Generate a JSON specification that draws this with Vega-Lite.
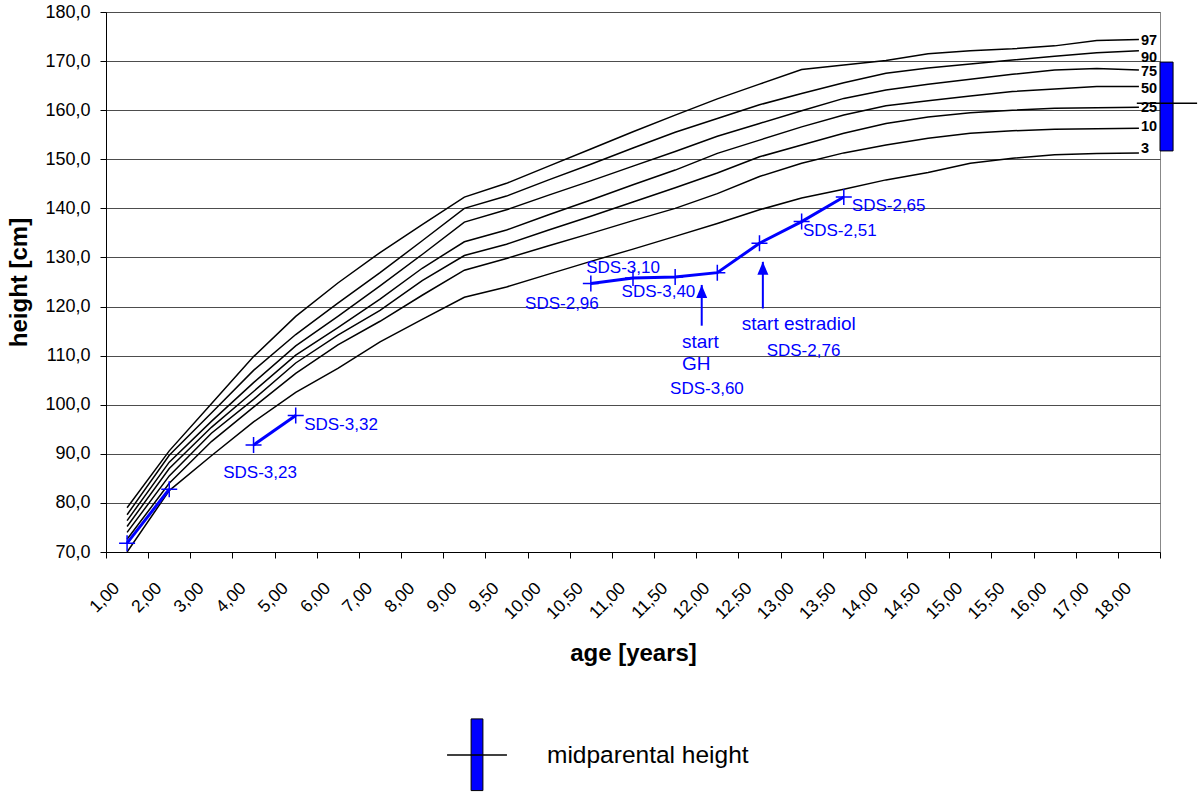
{
  "$schema": "https://vega.github.io/schema/vega-lite/v6.json",
  "width": 1054,
  "height": 540,
  "autosize": {"type": "none"},
  "padding": {"left": 106, "top": 12, "right": 40, "bottom": 240},
  "background": "white",
  "config": {"font": "Liberation Sans", "view": {"stroke": "#888888", "strokeWidth": 1}},
  "datasets": {
    "curves": [
      {"age":"1,00","percentile":"97","height":79.0},{"age":"2,00","percentile":"97","height":90.6},{"age":"3,00","percentile":"97","height":100.2},{"age":"4,00","percentile":"97","height":109.8},{"age":"5,00","percentile":"97","height":118.0},{"age":"6,00","percentile":"97","height":124.8},{"age":"7,00","percentile":"97","height":131.0},{"age":"8,00","percentile":"97","height":136.7},{"age":"9,00","percentile":"97","height":142.3},{"age":"9,50","percentile":"97","height":145.1},{"age":"10,00","percentile":"97","height":148.6},{"age":"10,50","percentile":"97","height":152.1},{"age":"11,00","percentile":"97","height":155.6},{"age":"11,50","percentile":"97","height":159.0},{"age":"12,00","percentile":"97","height":162.3},{"age":"12,50","percentile":"97","height":165.3},{"age":"13,00","percentile":"97","height":168.3},{"age":"13,50","percentile":"97","height":169.2},{"age":"14,00","percentile":"97","height":170.1},{"age":"14,50","percentile":"97","height":171.5},{"age":"15,00","percentile":"97","height":172.1},{"age":"15,50","percentile":"97","height":172.5},{"age":"16,00","percentile":"97","height":173.1},{"age":"17,00","percentile":"97","height":174.2},{"age":"18,00","percentile":"97","height":174.4},
      {"age":"1,00","percentile":"90","height":77.6},{"age":"2,00","percentile":"90","height":89.7},{"age":"3,00","percentile":"90","height":98.3},{"age":"4,00","percentile":"90","height":107.0},{"age":"5,00","percentile":"90","height":114.3},{"age":"6,00","percentile":"90","height":120.7},{"age":"7,00","percentile":"90","height":126.9},{"age":"8,00","percentile":"90","height":133.4},{"age":"9,00","percentile":"90","height":140.0},{"age":"9,50","percentile":"90","height":142.5},{"age":"10,00","percentile":"90","height":145.8},{"age":"10,50","percentile":"90","height":149.0},{"age":"11,00","percentile":"90","height":152.3},{"age":"11,50","percentile":"90","height":155.5},{"age":"12,00","percentile":"90","height":158.3},{"age":"12,50","percentile":"90","height":161.1},{"age":"13,00","percentile":"90","height":163.4},{"age":"13,50","percentile":"90","height":165.6},{"age":"14,00","percentile":"90","height":167.5},{"age":"14,50","percentile":"90","height":168.6},{"age":"15,00","percentile":"90","height":169.4},{"age":"15,50","percentile":"90","height":170.2},{"age":"16,00","percentile":"90","height":171.0},{"age":"17,00","percentile":"90","height":171.7},{"age":"18,00","percentile":"90","height":172.1},
      {"age":"1,00","percentile":"75","height":76.4},{"age":"2,00","percentile":"75","height":88.3},{"age":"3,00","percentile":"75","height":96.6},{"age":"4,00","percentile":"75","height":104.5},{"age":"5,00","percentile":"75","height":112.0},{"age":"6,00","percentile":"75","height":118.0},{"age":"7,00","percentile":"75","height":124.2},{"age":"8,00","percentile":"75","height":130.6},{"age":"9,00","percentile":"75","height":137.2},{"age":"9,50","percentile":"75","height":139.7},{"age":"10,00","percentile":"75","height":142.7},{"age":"10,50","percentile":"75","height":145.6},{"age":"11,00","percentile":"75","height":148.6},{"age":"11,50","percentile":"75","height":151.6},{"age":"12,00","percentile":"75","height":154.7},{"age":"12,50","percentile":"75","height":157.3},{"age":"13,00","percentile":"75","height":159.9},{"age":"13,50","percentile":"75","height":162.4},{"age":"14,00","percentile":"75","height":164.1},{"age":"14,50","percentile":"75","height":165.3},{"age":"15,00","percentile":"75","height":166.3},{"age":"15,50","percentile":"75","height":167.3},{"age":"16,00","percentile":"75","height":168.2},{"age":"17,00","percentile":"75","height":168.5},{"age":"18,00","percentile":"75","height":168.2},
      {"age":"1,00","percentile":"50","height":75.2},{"age":"2,00","percentile":"50","height":87.0},{"age":"3,00","percentile":"50","height":95.4},{"age":"4,00","percentile":"50","height":102.7},{"age":"5,00","percentile":"50","height":110.1},{"age":"6,00","percentile":"50","height":115.7},{"age":"7,00","percentile":"50","height":121.5},{"age":"8,00","percentile":"50","height":127.8},{"age":"9,00","percentile":"50","height":133.2},{"age":"9,50","percentile":"50","height":135.6},{"age":"10,00","percentile":"50","height":138.7},{"age":"10,50","percentile":"50","height":141.7},{"age":"11,00","percentile":"50","height":144.8},{"age":"11,50","percentile":"50","height":147.8},{"age":"12,00","percentile":"50","height":151.2},{"age":"12,50","percentile":"50","height":153.9},{"age":"13,00","percentile":"50","height":156.6},{"age":"13,50","percentile":"50","height":159.0},{"age":"14,00","percentile":"50","height":160.9},{"age":"14,50","percentile":"50","height":161.9},{"age":"15,00","percentile":"50","height":162.9},{"age":"15,50","percentile":"50","height":163.8},{"age":"16,00","percentile":"50","height":164.3},{"age":"17,00","percentile":"50","height":164.8},{"age":"18,00","percentile":"50","height":164.8},
      {"age":"1,00","percentile":"25","height":74.0},{"age":"2,00","percentile":"25","height":85.5},{"age":"3,00","percentile":"25","height":94.2},{"age":"4,00","percentile":"25","height":101.1},{"age":"5,00","percentile":"25","height":108.5},{"age":"6,00","percentile":"25","height":114.2},{"age":"7,00","percentile":"25","height":119.2},{"age":"8,00","percentile":"25","height":125.3},{"age":"9,00","percentile":"25","height":130.4},{"age":"9,50","percentile":"25","height":132.7},{"age":"10,00","percentile":"25","height":135.6},{"age":"10,50","percentile":"25","height":138.4},{"age":"11,00","percentile":"25","height":141.3},{"age":"11,50","percentile":"25","height":144.2},{"age":"12,00","percentile":"25","height":147.2},{"age":"12,50","percentile":"25","height":150.5},{"age":"13,00","percentile":"25","height":152.9},{"age":"13,50","percentile":"25","height":155.3},{"age":"14,00","percentile":"25","height":157.3},{"age":"14,50","percentile":"25","height":158.6},{"age":"15,00","percentile":"25","height":159.5},{"age":"15,50","percentile":"25","height":160.0},{"age":"16,00","percentile":"25","height":160.4},{"age":"17,00","percentile":"25","height":160.5},{"age":"18,00","percentile":"25","height":160.6},
      {"age":"1,00","percentile":"10","height":72.6},{"age":"2,00","percentile":"10","height":84.0},{"age":"3,00","percentile":"10","height":92.5},{"age":"4,00","percentile":"10","height":99.5},{"age":"5,00","percentile":"10","height":106.4},{"age":"6,00","percentile":"10","height":112.2},{"age":"7,00","percentile":"10","height":117.0},{"age":"8,00","percentile":"10","height":122.3},{"age":"9,00","percentile":"10","height":127.4},{"age":"9,50","percentile":"10","height":129.8},{"age":"10,00","percentile":"10","height":132.4},{"age":"10,50","percentile":"10","height":134.9},{"age":"11,00","percentile":"10","height":137.5},{"age":"11,50","percentile":"10","height":140.0},{"age":"12,00","percentile":"10","height":143.0},{"age":"12,50","percentile":"10","height":146.5},{"age":"13,00","percentile":"10","height":149.2},{"age":"13,50","percentile":"10","height":151.3},{"age":"14,00","percentile":"10","height":152.9},{"age":"14,50","percentile":"10","height":154.3},{"age":"15,00","percentile":"10","height":155.3},{"age":"15,50","percentile":"10","height":155.8},{"age":"16,00","percentile":"10","height":156.1},{"age":"17,00","percentile":"10","height":156.2},{"age":"18,00","percentile":"10","height":156.3},
      {"age":"1,00","percentile":"3","height":70.0},{"age":"2,00","percentile":"3","height":82.5},{"age":"3,00","percentile":"3","height":89.6},{"age":"4,00","percentile":"3","height":96.5},{"age":"5,00","percentile":"3","height":102.5},{"age":"6,00","percentile":"3","height":107.4},{"age":"7,00","percentile":"3","height":112.8},{"age":"8,00","percentile":"3","height":117.4},{"age":"9,00","percentile":"3","height":121.9},{"age":"9,50","percentile":"3","height":124.0},{"age":"10,00","percentile":"3","height":126.6},{"age":"10,50","percentile":"3","height":129.2},{"age":"11,00","percentile":"3","height":131.7},{"age":"11,50","percentile":"3","height":134.3},{"age":"12,00","percentile":"3","height":136.9},{"age":"12,50","percentile":"3","height":139.7},{"age":"13,00","percentile":"3","height":142.1},{"age":"13,50","percentile":"3","height":143.9},{"age":"14,00","percentile":"3","height":145.8},{"age":"14,50","percentile":"3","height":147.3},{"age":"15,00","percentile":"3","height":149.2},{"age":"15,50","percentile":"3","height":150.2},{"age":"16,00","percentile":"3","height":150.9},{"age":"17,00","percentile":"3","height":151.2},{"age":"18,00","percentile":"3","height":151.3}
    ],
    "patient": [
      {"age":"1,00","segment":"a","height":71.8},{"age":"2,00","segment":"a","height":82.8},
      {"age":"4,00","segment":"b","height":91.8},{"age":"5,00","segment":"b","height":97.8},
      {"age":"10,50","segment":"c","height":124.7},{"age":"11,00","segment":"c","height":125.8},{"age":"11,50","segment":"c","height":126.0},{"age":"12,00","segment":"c","height":126.9},{"age":"12,50","segment":"c","height":132.9},{"age":"13,00","segment":"c","height":137.3},{"age":"13,50","segment":"c","height":142.3}
    ],
    "sds_notes": [
      {"label":"SDS-3,32","pos":4.20,"height":95.9},
      {"label":"SDS-3,23","pos":2.28,"height":86.15},
      {"label":"SDS-2,96","pos":9.44,"height":120.5},
      {"label":"SDS-3,10","pos":10.89,"height":127.8},
      {"label":"SDS-3,40","pos":11.73,"height":122.9},
      {"label":"SDS-3,60","pos":12.88,"height":103.3},
      {"label":"SDS-2,76","pos":15.17,"height":110.9},
      {"label":"SDS-2,51","pos":16.03,"height":135.45},
      {"label":"SDS-2,65","pos":17.19,"height":140.5}
    ],
    "event_notes": [
      {"label":"start","pos":13.16,"height":112.8},
      {"label":"GH","pos":13.16,"height":108.3},
      {"label":"start estradiol","pos":14.58,"height":116.4}
    ],
    "arrows": [
      {"event":"GH","pos":13.63,"base":116.1,"tip":124.4},
      {"event":"estradiol","pos":15.08,"base":119.6,"tip":129.1}
    ],
    "pct_labels": [
      {"percentile":"97","pos":24.05,"height":174.0},
      {"percentile":"90","pos":24.05,"height":170.6},
      {"percentile":"75","pos":24.05,"height":167.8},
      {"percentile":"50","pos":24.05,"height":164.3},
      {"percentile":"25","pos":24.05,"height":160.4},
      {"percentile":"10","pos":24.05,"height":156.6},
      {"percentile":"3","pos":24.05,"height":152.1}
    ],
    "target_range": [{"x_from":24.5,"x_to":24.81,"low":151.7,"high":169.8}],
    "midparental": [{"x_from":23.95,"x_to":25.38,"height":161.4}],
    "legend_bar": [{"x_from":8.16,"x_to":8.44,"low":21.4,"high":36.0}],
    "legend_line": [{"x_from":7.59,"x_to":9.01,"height":28.65}],
    "legend_text": [{"label":"midparental height","pos":9.96,"height":27.0}]
  },
  "layer": [
    {
      "data": {"name": "curves"},
      "mark": {"type": "line", "color": "black", "strokeWidth": 1.5},
      "encoding": {
        "x": {
          "field": "age", "type": "ordinal",
          "sort": ["1,00","2,00","3,00","4,00","5,00","6,00","7,00","8,00","9,00","9,50","10,00","10,50","11,00","11,50","12,00","12,50","13,00","13,50","14,00","14,50","15,00","15,50","16,00","17,00","18,00"],
          "scale": {"type": "band", "domain": ["1,00","2,00","3,00","4,00","5,00","6,00","7,00","8,00","9,00","9,50","10,00","10,50","11,00","11,50","12,00","12,50","13,00","13,50","14,00","14,50","15,00","15,50","16,00","17,00","18,00"], "paddingInner": 0, "paddingOuter": 0},
          "axis": {
            "title": "age [years]", "titleFontSize": 24, "titleFontWeight": "bold", "titleColor": "black",
            "titleY": 108, "titleBaseline": "alphabetic",
            "tickBand": "extent", "grid": false,
            "labelAngle": -45, "labelAlign": "right", "labelBaseline": "top", "labelOffset": -17, "labelPadding": 21,
            "labelFontSize": 17.5, "labelColor": "black", "tickSize": 6, "tickColor": "black", "domainColor": "black"
          }
        },
        "y": {
          "field": "height", "type": "quantitative",
          "scale": {"domain": [70, 180], "nice": false, "zero": false},
          "axis": {
            "title": "height [cm]", "titleFontSize": 24, "titleFontWeight": "bold", "titleColor": "black",
            "titleX": -80, "titleY": 270, "titleAlign": "center", "titleBaseline": "alphabetic", "titleAngle": 270,
            "values": [70, 80, 90, 100, 110, 120, 130, 140, 150, 160, 170, 180],
            "labelExpr": "replace(format(datum.value, '.1f'), '.', ',')",
            "labelFontSize": 18, "labelColor": "black", "labelPadding": 10,
            "grid": true, "gridColor": "#4d4d4d", "gridWidth": 1,
            "tickSize": 6, "tickColor": "black", "domainColor": "black"
          }
        },
        "detail": {"field": "percentile"}
      }
    },
    {
      "data": {"name": "patient"},
      "mark": {"type": "line", "color": "#0000ff", "strokeWidth": 3},
      "encoding": {
        "x": {"field": "age", "type": "ordinal",
          "sort": ["1,00","2,00","3,00","4,00","5,00","6,00","7,00","8,00","9,00","9,50","10,00","10,50","11,00","11,50","12,00","12,50","13,00","13,50","14,00","14,50","15,00","15,50","16,00","17,00","18,00"],
          "scale": {"type": "band", "domain": ["1,00","2,00","3,00","4,00","5,00","6,00","7,00","8,00","9,00","9,50","10,00","10,50","11,00","11,50","12,00","12,50","13,00","13,50","14,00","14,50","15,00","15,50","16,00","17,00","18,00"], "paddingInner": 0, "paddingOuter": 0},
          "axis": null},
        "y": {"field": "height", "type": "quantitative", "scale": {"domain": [70, 180], "nice": false, "zero": false}},
        "detail": {"field": "segment"}
      }
    },
    {
      "data": {"name": "patient"},
      "mark": {"type": "point", "shape": "M-8,0L8,0M0,-8L0,8", "size": 4, "filled": false, "color": "#0000ff", "strokeWidth": 1.5, "opacity": 1},
      "encoding": {
        "x": {"field": "age", "type": "ordinal",
          "sort": ["1,00","2,00","3,00","4,00","5,00","6,00","7,00","8,00","9,00","9,50","10,00","10,50","11,00","11,50","12,00","12,50","13,00","13,50","14,00","14,50","15,00","15,50","16,00","17,00","18,00"],
          "scale": {"type": "band", "domain": ["1,00","2,00","3,00","4,00","5,00","6,00","7,00","8,00","9,00","9,50","10,00","10,50","11,00","11,50","12,00","12,50","13,00","13,50","14,00","14,50","15,00","15,50","16,00","17,00","18,00"], "paddingInner": 0, "paddingOuter": 0},
          "axis": null},
        "y": {"field": "height", "type": "quantitative", "scale": {"domain": [70, 180], "nice": false, "zero": false}}
      }
    },
    {
      "data": {"name": "sds_notes"},
      "mark": {"type": "text", "align": "left", "baseline": "middle", "color": "#0000ff", "fontSize": 17, "clip": false},
      "encoding": {
        "x": {"field": "pos", "type": "quantitative", "scale": {"domain": [-0.5, 24.5], "nice": false, "zero": false}, "axis": null},
        "y": {"field": "height", "type": "quantitative", "scale": {"domain": [70, 180], "nice": false, "zero": false}},
        "text": {"field": "label"}
      }
    },
    {
      "data": {"name": "event_notes"},
      "mark": {"type": "text", "align": "left", "baseline": "middle", "color": "#0000ff", "fontSize": 19, "clip": false},
      "encoding": {
        "x": {"field": "pos", "type": "quantitative", "scale": {"domain": [-0.5, 24.5], "nice": false, "zero": false}, "axis": null},
        "y": {"field": "height", "type": "quantitative", "scale": {"domain": [70, 180], "nice": false, "zero": false}},
        "text": {"field": "label"}
      }
    },
    {
      "data": {"name": "arrows"},
      "mark": {"type": "rule", "color": "#0000ff", "strokeWidth": 2, "clip": false},
      "encoding": {
        "x": {"field": "pos", "type": "quantitative", "scale": {"domain": [-0.5, 24.5], "nice": false, "zero": false}, "axis": null},
        "y": {"field": "base", "type": "quantitative", "scale": {"domain": [70, 180], "nice": false, "zero": false}},
        "y2": {"field": "tip"}
      }
    },
    {
      "data": {"name": "arrows"},
      "mark": {"type": "point", "shape": "M0,0L-5.5,13L5.5,13Z", "size": 4, "filled": true, "color": "#0000ff", "opacity": 1, "clip": false},
      "encoding": {
        "x": {"field": "pos", "type": "quantitative", "scale": {"domain": [-0.5, 24.5], "nice": false, "zero": false}, "axis": null},
        "y": {"field": "tip", "type": "quantitative", "scale": {"domain": [70, 180], "nice": false, "zero": false}}
      }
    },
    {
      "data": {"name": "pct_labels"},
      "mark": {"type": "text", "align": "left", "baseline": "middle", "color": "black", "fontSize": 14.5, "fontWeight": "bold", "clip": false},
      "encoding": {
        "x": {"field": "pos", "type": "quantitative", "scale": {"domain": [-0.5, 24.5], "nice": false, "zero": false}, "axis": null},
        "y": {"field": "height", "type": "quantitative", "scale": {"domain": [70, 180], "nice": false, "zero": false}},
        "text": {"field": "percentile"}
      }
    },
    {
      "data": {"name": "target_range"},
      "mark": {"type": "rect", "fill": "#0000ff", "stroke": "black", "strokeWidth": 1, "clip": false},
      "encoding": {
        "x": {"field": "x_from", "type": "quantitative", "scale": {"domain": [-0.5, 24.5], "nice": false, "zero": false}, "axis": null},
        "x2": {"field": "x_to"},
        "y": {"field": "low", "type": "quantitative", "scale": {"domain": [70, 180], "nice": false, "zero": false}},
        "y2": {"field": "high"}
      }
    },
    {
      "data": {"name": "midparental"},
      "mark": {"type": "rule", "color": "black", "strokeWidth": 1.5, "clip": false},
      "encoding": {
        "x": {"field": "x_from", "type": "quantitative", "scale": {"domain": [-0.5, 24.5], "nice": false, "zero": false}, "axis": null},
        "x2": {"field": "x_to"},
        "y": {"field": "height", "type": "quantitative", "scale": {"domain": [70, 180], "nice": false, "zero": false}}
      }
    },
    {
      "data": {"name": "legend_bar"},
      "mark": {"type": "rect", "fill": "#0000ff", "stroke": "black", "strokeWidth": 1, "clip": false},
      "encoding": {
        "x": {"field": "x_from", "type": "quantitative", "scale": {"domain": [-0.5, 24.5], "nice": false, "zero": false}, "axis": null},
        "x2": {"field": "x_to"},
        "y": {"field": "low", "type": "quantitative", "scale": {"domain": [70, 180], "nice": false, "zero": false}},
        "y2": {"field": "high"}
      }
    },
    {
      "data": {"name": "legend_line"},
      "mark": {"type": "rule", "color": "black", "strokeWidth": 1.5, "clip": false},
      "encoding": {
        "x": {"field": "x_from", "type": "quantitative", "scale": {"domain": [-0.5, 24.5], "nice": false, "zero": false}, "axis": null},
        "x2": {"field": "x_to"},
        "y": {"field": "height", "type": "quantitative", "scale": {"domain": [70, 180], "nice": false, "zero": false}}
      }
    },
    {
      "data": {"name": "legend_text"},
      "mark": {"type": "text", "align": "left", "baseline": "alphabetic", "color": "black", "fontSize": 24.5, "clip": false},
      "encoding": {
        "x": {"field": "pos", "type": "quantitative", "scale": {"domain": [-0.5, 24.5], "nice": false, "zero": false}, "axis": null},
        "y": {"field": "height", "type": "quantitative", "scale": {"domain": [70, 180], "nice": false, "zero": false}},
        "text": {"field": "label"}
      }
    }
  ],
  "resolve": {"scale": {"x": "independent"}}
}
